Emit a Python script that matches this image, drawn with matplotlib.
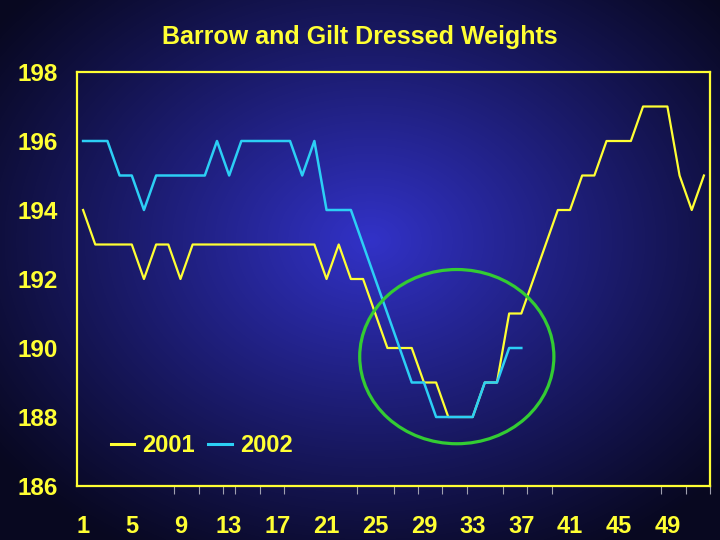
import numpy as np
import matplotlib
matplotlib.use("Agg")
import matplotlib.pyplot as plt
from matplotlib.patches import Ellipse

plt.rcParams['font.family'] = ['Liberation Sans', 'DejaVu Sans']

# ---------------- data ----------------
weeks_2001 = list(range(1, 53))
weights_2001 = [194, 193, 193, 193, 193, 192, 193, 193, 192, 193,
                193, 193, 193, 193, 193, 193, 193, 193, 193, 193,
                192, 193, 192, 192, 191, 190, 190, 190, 189, 189,
                188, 188, 188, 189, 189, 191, 191, 192, 193, 194,
                194, 195, 195, 196, 196, 196, 197, 197, 197, 195,
                194, 195]
weeks_2002 = list(range(1, 38))
weights_2002 = [196, 196, 196, 195, 195, 194, 195, 195, 195, 195,
                195, 196, 195, 196, 196, 196, 196, 196, 195, 196,
                194, 194, 194, 193, 192, 191, 190, 189, 189, 188,
                188, 188, 188, 189, 189, 190, 190]
series_labels = ['2001', '2002']
x_tick_labels = [1, 5, 9, 13, 17, 21, 25, 29, 33, 37, 41, 45, 49]
y_tick_values = [186, 188, 190, 192, 194, 196, 198]
title = 'Barrow and Gilt Dressed Weights'

# stray tick marks along the bottom / left (as in the original)
x_stray_ticks = [8.5, 10.5, 12.5, 13.5, 15.5, 17.5, 23.5, 26.5, 28.5, 30.5,
                 32.5, 35.5, 37.5, 39.5, 48.5, 50.5, 52.5]
y_stray_ticks = [188, 196]

# highlight ellipse (data coords)
ell_center = (31.7, 189.75)
ell_w, ell_h = 15.95, 5.05

YELLOW = '#ffff33'
CYAN = '#2ccff5'
GREEN = '#33cc33'
GRAY = '#a0a0b0'

W, H = 720, 540
fig = plt.figure(figsize=(W / 100, H / 100), dpi=100)

# ---------------- background gradient ----------------
bg = fig.add_axes([0, 0, 1, 1], zorder=-10)
yy, xx = np.mgrid[0:H, 0:W]
d = np.sqrt(((xx - 370) / 470.0) ** 2 + ((yy - 240) / 360.0) ** 2)
t = np.clip(1 - d, 0, 1) ** 1.1
edge = np.array([8, 8, 32]) / 255.0
center = np.array([50, 50, 200]) / 255.0
img = edge[None, None, :] + (center - edge)[None, None, :] * t[:, :, None]
bg.imshow(img, aspect='auto', extent=[0, 1, 0, 1], origin='upper')
bg.axis('off')

# ---------------- main axes ----------------
ax = fig.add_axes([77 / W, (H - 486) / H, 633 / W, 414 / H])
ax.set_facecolor('none')

ax.plot(weeks_2001, weights_2001, color=YELLOW, lw=1.6, label=series_labels[0], zorder=3)
ax.plot(weeks_2002, weights_2002, color=CYAN, lw=1.8, label=series_labels[1], zorder=4)

ax.add_patch(Ellipse(ell_center, ell_w, ell_h, fill=False, edgecolor=GREEN, lw=2.3, zorder=5))

ax.set_xlim(0.5, 52.5)
ax.set_ylim(186, 198)

ax.set_xticks(x_tick_labels)
ax.set_xticklabels([str(v) for v in x_tick_labels])
ax.set_xticks(x_stray_ticks, minor=True)
ax.set_yticks(y_tick_values)
ax.set_yticklabels([str(v) for v in y_tick_values])
ax.set_yticks(y_stray_ticks, minor=True)

ax.tick_params(axis='x', which='major', length=0, pad=21, labelsize=17,
               labelcolor=YELLOW)
ax.tick_params(axis='y', which='major', length=0, pad=14, labelsize=17.5,
               labelcolor=YELLOW)
ax.tick_params(axis='both', which='minor', length=5.5, width=0.8, color=GRAY,
               direction='out')
for lab in ax.get_xticklabels() + ax.get_yticklabels():
    lab.set_fontweight('bold')

for s in ax.spines.values():
    s.set_color(YELLOW)
    s.set_linewidth(1.6)

leg = ax.legend(loc='center left', bbox_to_anchor=(0.053, 0.097), ncol=2,
                frameon=False, handlelength=1.0, handletextpad=0.35,
                columnspacing=0.55, borderpad=0, borderaxespad=0,
                prop={'size': 17, 'weight': 'bold'})
for txt in leg.get_texts():
    txt.set_color(YELLOW)
for ln in leg.get_lines():
    ln.set_linewidth(2.2)

fig.text(0.5, 1 - 37 / H, title, color=YELLOW, fontsize=18, fontweight='bold',
         ha='center', va='center')

fig.savefig('out.png', dpi=100)
